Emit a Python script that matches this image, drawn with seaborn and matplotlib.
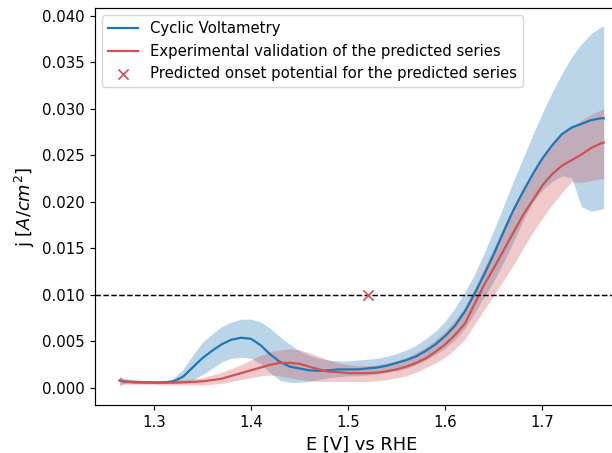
import matplotlib
matplotlib.use("Agg")
import matplotlib.pyplot as plt
import seaborn as sns
import pandas as pd

E = [1.265, 1.27, 1.28, 1.29, 1.30, 1.31, 1.32, 1.33, 1.34, 1.35, 1.36, 1.37, 1.38, 1.39,
     1.40, 1.41, 1.42, 1.43, 1.44, 1.45, 1.46, 1.47, 1.48, 1.49, 1.50, 1.51, 1.52, 1.53,
     1.54, 1.55, 1.56, 1.57, 1.58, 1.59, 1.60, 1.61, 1.62, 1.63, 1.64, 1.65, 1.66, 1.67,
     1.68, 1.69, 1.70, 1.71, 1.72, 1.73, 1.74, 1.75, 1.76, 1.763]

cv_mean = [0.0008, 0.0007, 0.00065, 0.00062, 0.0006, 0.0006, 0.0007, 0.0012, 0.0022, 0.0032,
           0.0040, 0.0047, 0.0052, 0.0054, 0.0053, 0.0046, 0.0036, 0.0028, 0.0023, 0.0021,
           0.0019, 0.00185, 0.0019, 0.0020, 0.0020, 0.0020, 0.0021, 0.0022, 0.0024, 0.0027,
           0.0030, 0.0034, 0.0040, 0.0047, 0.0056, 0.0067, 0.0082, 0.0101, 0.0122, 0.0144,
           0.0168, 0.0191, 0.0211, 0.0230, 0.0247, 0.0261, 0.0273, 0.0280, 0.0284, 0.0288,
           0.0290, 0.0290]
cv_hi = [0.0012, 0.0009, 0.0008, 0.0007, 0.0007, 0.0007, 0.0010, 0.0020, 0.0035, 0.0049,
         0.0058, 0.0066, 0.0071, 0.0074, 0.0074, 0.0071, 0.0064, 0.0055, 0.0047, 0.0040,
         0.0035, 0.0032, 0.0030, 0.0029, 0.0029, 0.0030, 0.0031, 0.0032, 0.0034, 0.0037,
         0.0041, 0.0046, 0.0053, 0.0061, 0.0072, 0.0086, 0.0103, 0.0122, 0.0145, 0.0170,
         0.0196, 0.0222, 0.0247, 0.0272, 0.0296, 0.0318, 0.0338, 0.0356, 0.0370, 0.0381,
         0.0388, 0.0389]
cv_lo = [0.0004, 0.0005, 0.0005, 0.0005, 0.0005, 0.0005, 0.0005, 0.0006, 0.0009, 0.0014,
         0.0021, 0.0028, 0.0032, 0.0033, 0.0032, 0.0026, 0.0016, 0.0008, 0.0006, 0.0006,
         0.0007, 0.0009, 0.0011, 0.0012, 0.0013, 0.0013, 0.0014, 0.0015, 0.0017, 0.0019,
         0.0021, 0.0025, 0.0030, 0.0036, 0.0043, 0.0052, 0.0064, 0.0080, 0.0098, 0.0115,
         0.0135, 0.0157, 0.0180, 0.0200, 0.0213, 0.0222, 0.0228, 0.0226, 0.0195, 0.0190,
         0.0192, 0.0193]

exp_mean = [0.0008, 0.0007, 0.0006, 0.0006, 0.00058, 0.00057, 0.00058, 0.0006, 0.00065, 0.00072,
            0.00085, 0.0010, 0.0013, 0.0016, 0.0019, 0.0022, 0.0025, 0.0027, 0.0027, 0.0026,
            0.0023, 0.0020, 0.00175, 0.0017, 0.0016, 0.0016, 0.0016, 0.00165, 0.0018, 0.0020,
            0.0023, 0.0027, 0.0032, 0.0039, 0.0047, 0.0057, 0.0069, 0.0090, 0.0111, 0.0129,
            0.0148, 0.0167, 0.0186, 0.0202, 0.0218, 0.0230, 0.0239, 0.0245, 0.0251, 0.0258,
            0.0263, 0.0264]
exp_hi = [0.0013, 0.0010, 0.0009, 0.0008, 0.0008, 0.0008, 0.0009, 0.0009, 0.0010, 0.0011,
          0.0014, 0.0017, 0.0021, 0.0025, 0.0030, 0.0035, 0.0039, 0.0041, 0.0042, 0.0041,
          0.0038, 0.0034, 0.0030, 0.0027, 0.0025, 0.0024, 0.0024, 0.0025, 0.0027, 0.0029,
          0.0033, 0.0038, 0.0044, 0.0052, 0.0061, 0.0073, 0.0087, 0.0107, 0.0129, 0.0151,
          0.0173, 0.0195, 0.0215, 0.0233, 0.0250, 0.0263, 0.0273, 0.0281, 0.0288, 0.0294,
          0.0299, 0.0300]
exp_lo = [0.0002, 0.0004, 0.0004, 0.0004, 0.0004, 0.0003, 0.0003, 0.0003, 0.0003, 0.0003,
          0.0004, 0.0005, 0.0007, 0.0009, 0.0011, 0.0013, 0.0014, 0.0013, 0.0011, 0.0009,
          0.0008, 0.0007, 0.0007, 0.0007, 0.0007, 0.0007, 0.0007, 0.0008, 0.0009, 0.0011,
          0.0013, 0.0017, 0.0022, 0.0027, 0.0033, 0.0042, 0.0052, 0.0068, 0.0084, 0.0100,
          0.0116, 0.0132, 0.0150, 0.0167, 0.0183, 0.0197, 0.0210, 0.0222, 0.0221, 0.0223,
          0.0225, 0.0225]

onset_E = [1.52]
onset_j = [0.010]
threshold = 0.010

label_cv = "Cyclic Voltametry"
label_exp = "Experimental validation of the predicted series"
label_onset = "Predicted onset potential for the predicted series"

blue = "#1f77b4"
red = "#d05252"
scale = 1.075

df = pd.DataFrame({"E": E, "cv": cv_mean, "exp": exp_mean})

plt.rcParams["axes.linewidth"] = 0.8 * scale
plt.rcParams["xtick.major.width"] = 0.8 * scale
plt.rcParams["ytick.major.width"] = 0.8 * scale
plt.rcParams["xtick.major.size"] = 3.5 * scale
plt.rcParams["ytick.major.size"] = 3.5 * scale
plt.rcParams["legend.fontsize"] = 10 * scale

fig = plt.figure(figsize=(6.12, 4.53), dpi=100)
ax = fig.add_axes([95 / 612, 48 / 453, 533 / 612, 397 / 453])

ax.fill_between(E, cv_lo, cv_hi, color=blue, alpha=0.3, linewidth=0)
ax.fill_between(E, exp_lo, exp_hi, color=red, alpha=0.3, linewidth=0)
sns.lineplot(data=df, x="E", y="cv", ax=ax, color=blue, linewidth=1.5 * scale, label=label_cv)
sns.lineplot(data=df, x="E", y="exp", ax=ax, color=red, linewidth=1.5 * scale, label=label_exp)
ax.axhline(threshold, color="black", linestyle="--", linewidth=1.0 * scale)
sns.scatterplot(x=onset_E, y=onset_j, ax=ax, marker="x", color=red, s=55,
                linewidth=1.2, label=label_onset, zorder=5)

ax.set_xlim(1.2396, 1.788)
ax.set_ylim(-0.00183, 0.04086)
ax.set_xticks([1.3, 1.4, 1.5, 1.6, 1.7])
ax.set_yticks([0.0, 0.005, 0.010, 0.015, 0.020, 0.025, 0.030, 0.035, 0.040])
ax.tick_params(labelsize=10 * scale)
ax.set_xlabel("E [V] vs RHE", fontsize=12 * scale)
ax.set_ylabel("j [$A/cm^2$]", fontsize=12 * scale)
ax.legend(loc="upper left", fontsize=10 * scale)

fig.savefig("out.png", dpi=100)
